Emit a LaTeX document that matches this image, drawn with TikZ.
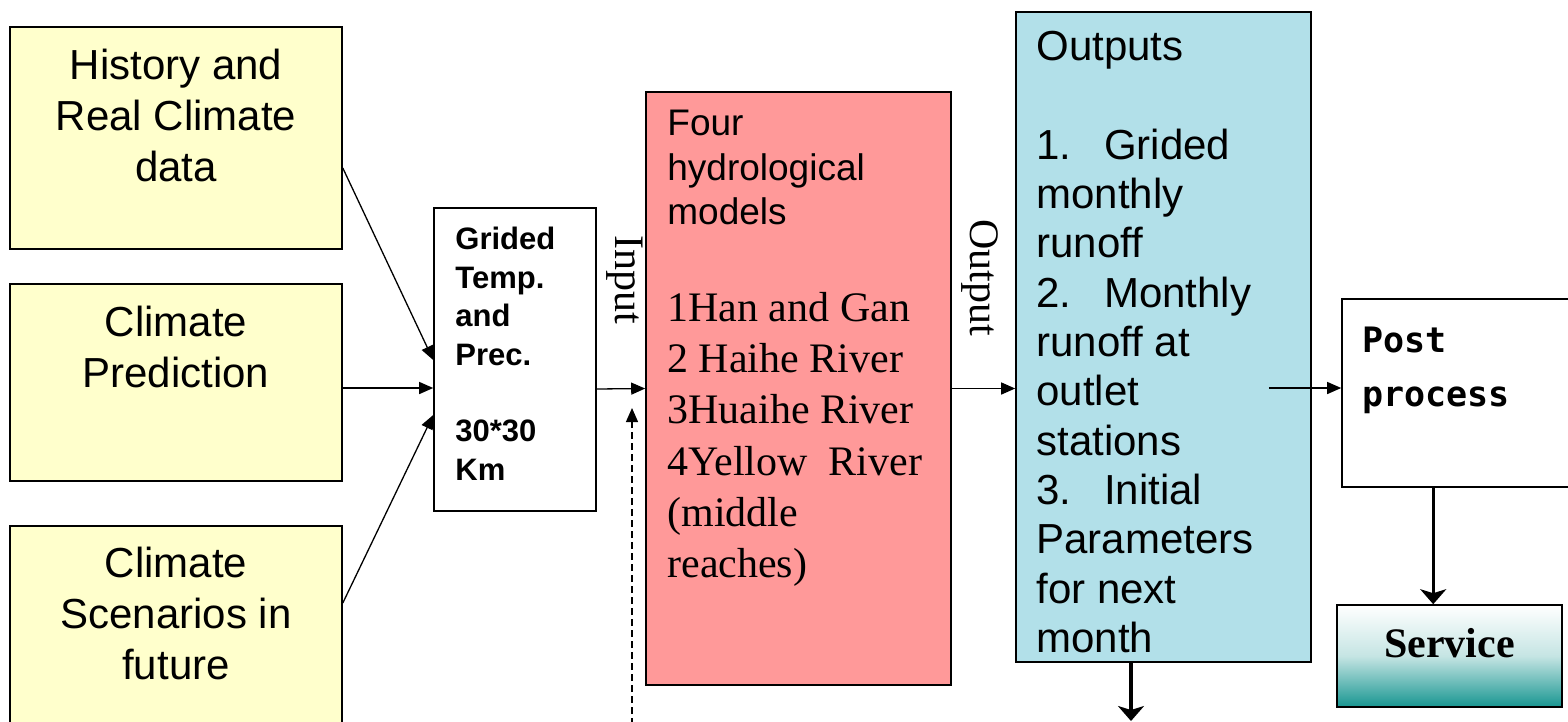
\documentclass[tikz,border=0pt]{standalone}
\usepackage{fontspec}
\setmainfont{Liberation Sans}
\newfontfamily\serifface{Liberation Serif}
\newfontfamily\monoface{DejaVu Sans Mono}
\usetikzlibrary{arrows.meta, positioning, calc}

\definecolor{climyellow}{RGB}{255,255,204}
\definecolor{modelred}{RGB}{255,153,153}
\definecolor{outblue}{RGB}{178,224,233}
\definecolor{srvteal}{RGB}{24,150,145}

\begin{document}
\begin{tikzpicture}[
  x=1pt, y=-1pt,
  box/.style     = {rectangle, draw=black, line width=1.6pt, inner sep=0pt},
  ybox/.style    = {box, fill=climyellow, minimum width=332pt},
  ytext/.style   = {align=center, inner sep=0pt, font=\fontsize{42}{51}\selectfont},
  gtext/.style   = {align=left, inner sep=0pt, font=\fontsize{31}{38.4}\selectfont\bfseries},
  stext/.style   = {align=left, inner sep=0pt, font=\fontsize{37}{44.5}\selectfont},
  rtext/.style   = {align=left, inner sep=0pt, font=\fontsize{42}{51.2}\selectfont\serifface},
  otext/.style   = {align=left, inner sep=0pt, font=\fontsize{42}{49.3}\selectfont},
  ptext/.style   = {align=left, inner sep=0pt, font=\fontsize{35}{54}\selectfont\monoface\bfseries},
  vlabel/.style  = {inner sep=0pt, rotate=-90, font=\fontsize{42}{50}\selectfont\serifface},
  arr/.style     = {-{Triangle[length=14pt, width=12pt]}, black, line width=1.3pt},
  bigarr/.style  = {-{Stealth[length=15pt, width=26pt, inset=4pt]}, black, line width=3.2pt}
]
\clip (0,0) rectangle (1568,721);
\fill[white] (0,0) rectangle (1568,721);

\node[ybox, minimum height=222pt] (hist) at (176,138) {};
\node[ybox, minimum height=197pt] (pred) at (176,382.5) {};
\node[ybox, minimum height=240pt] (scen) at (176,646) {};
\node[ytext] (histtxt) [below=23pt of hist.north] {History and\\Real Climate\\data};
\node[ytext] (predtxt) [below=23pt of pred.north] {Climate\\Prediction};
\node[ytext] (scentxt) [below=22pt of scen.north] {Climate\\Scenarios in\\future};

\node[box, fill=white, minimum width=162pt, minimum height=303pt] (grid) at (515,359.5) {};
\node[gtext] (gridtxt) [below right=20pt and 22pt of grid.north west]
  {Grided\\Temp.\\and\\Prec.\\[38.4pt]30*30\\Km};

\node[box, fill=modelred, minimum width=305pt, minimum height=593pt] (red) at (798.5,388.5) {};
\node[stext] (redhead) [below right=19pt and 22pt of red.north west] {Four\\hydrological\\models};
\node[rtext] (redlist) [below right=201pt and 22pt of red.north west]
  {1Han and Gan\\2 Haihe River\\3Huaihe River\\4Yellow\ \ River\\(middle\\reaches)};

\node[box, fill=outblue, minimum width=295pt, minimum height=650pt] (outs) at (1163.5,337) {};
\node[otext] (outstxt) [below right=20pt and 21pt of outs.north west]
  {Outputs\\[49.3pt]1.\enskip\ Grided\\monthly\\runoff\\2.\enskip\ Monthly\\runoff at\\outlet\\stations\\3.\enskip\ Initial\\Parameters\\for next\\month};

\node[box, fill=white, minimum width=238pt, minimum height=188pt] (post) at (1461,393) {};
\node[ptext] (posttxt) [below right=28.5pt and 21pt of post.north west] {Post\\process};

\node[box, top color=white, bottom color=srvteal, middle color=srvteal!25,
      minimum width=225pt, minimum height=102pt] (srv) at (1449.5,656) {};
\node[anchor=base, inner sep=0pt, font=\fontsize{42}{50}\selectfont\serifface\bfseries]
  (srvtxt) at ([yshift=-1pt]srv.center) {Service};

\node[vlabel] (inlbl)  at (625,280) {Input};
\node[vlabel] (outlbl) at (980,278) {Output};

\coordinate (fbstart) at (632,725);
\coordinate (fbend)   at (632,408);
\coordinate (psdown)  at ([xshift=92pt]post.south west);
\coordinate (outsend) at (1131,721);

\draw[arr] ([yshift=-30pt]hist.east)  -- ([yshift=-0.5pt]grid.west);
\draw[arr] ([yshift=-5.5pt]pred.east) -- ([yshift=-28.5pt]grid.west);
\draw[arr] ([yshift=43pt]scen.east)   -- ([yshift=-55.5pt]grid.west);
\draw[arr] ([yshift=-29.5pt]grid.east) -- (red.west);
\draw[arr, dash pattern=on 7pt off 4pt] (fbstart) -- (fbend);
\draw[arr] (red.east) -- (red.east -| outs.west);
\draw[arr] ($(outs.east |- post.west)+(-43,-5)$) -- ([yshift=5pt]post.west);
\draw[bigarr] (psdown) -- (psdown |- srv.north);
\draw[bigarr] (outsend |- outs.south) -- (outsend);

\end{tikzpicture}
\end{document}
